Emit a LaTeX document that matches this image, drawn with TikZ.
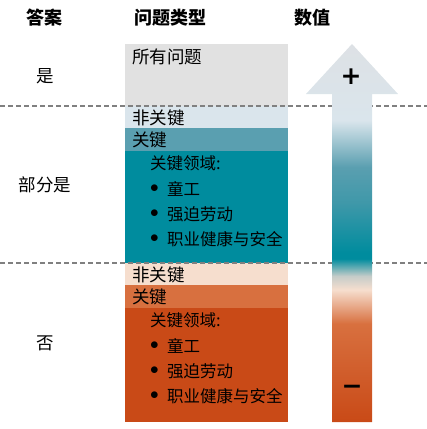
\documentclass[tikz,border=0pt]{standalone}
\usepackage{fontspec}
\setmainfont{Noto Sans CJK SC}
\newfontfamily\symfont{DejaVu Sans}
\definecolor{allgray}{HTML}{E1E1E1}
\definecolor{bluelight}{HTML}{DAE5EC}
\definecolor{bluemid}{HTML}{5A9FB0}
\definecolor{tealdeep}{HTML}{008C9E}
\definecolor{peach}{HTML}{F6DECE}
\definecolor{orangemid}{HTML}{D8703F}
\definecolor{orangedeep}{HTML}{C94A17}
\definecolor{dashgray}{HTML}{808080}
\definecolor{arrowtop}{HTML}{DDE1E5}
\definecolor{arrowmix}{HTML}{C5CCC9}
\definecolor{tealmid}{HTML}{3F98A9}
\pgfdeclareverticalshading{valshade}{100bp}{color(0bp)=(orangedeep); color(25bp)=(orangedeep);
 color(38bp)=(orangemid); color(42.5bp)=(peach); color(44.3bp)=(arrowmix);
 color(46.6bp)=(tealdeep); color(47.4bp)=(tealdeep); color(54bp)=(tealmid);
 color(58.7bp)=(bluemid); color(64.9bp)=(bluelight); color(75bp)=(arrowtop); color(100bp)=(arrowtop)}
\begin{document}
\begin{tikzpicture}[x=1pt,y=-1pt,
 lbl/.style={inner sep=0pt,anchor=west,font=\fontsize{17.5}{19}\selectfont},
 item/.style={inner sep=0pt,anchor=west,font=\fontsize{16.5}{18}\selectfont},
 head/.style={inner sep=0pt,font=\fontsize{18}{20}\selectfont\bfseries},
 ans/.style={inner sep=0pt,font=\fontsize{17.5}{19}\selectfont}]
 \useasboundingbox (0,0) rectangle (427,429);
 \def\xl{125}\def\xr{288}
 % Cột "Loại câu hỏi"
 \fill[allgray] (\xl,44) rectangle (\xr,106);
 \fill[bluelight] (\xl,106) rectangle (\xr,128);
 \fill[bluemid] (\xl,128) rectangle (\xr,151);
 \fill[tealdeep] (\xl,151) rectangle (\xr,263);
 \fill[peach] (\xl,263) rectangle (\xr,285);
 \fill[orangemid] (\xl,285) rectangle (\xr,308);
 \fill[orangedeep] (\xl,308) rectangle (\xr,422);
 \foreach \y in {106,263}\draw[dashgray,line width=1.5pt,dash pattern=on 5pt off 3pt] (0,\y)--(427,\y);
 % Mũi tên giá trị
 \shade[shading=valshade] (332,422)--(332,94)--(306,94)--(352,44)--(398,94)--(372,94)--(372,422)--cycle;
 \node[font=\symfont\bfseries\fontsize{25}{25}\selectfont,inner sep=0pt] (plus) at (351,77) {+};
 \node[font=\symfont\bfseries\fontsize{25}{25}\selectfont,inner sep=0pt] (minus) at (352,390) {−};
 % Tiêu đề
 \node[head] (hans) at (45,18) {答案};
 \node[head] (htype) at (170,18) {问题类型};
 \node[head] (hval) at (312,18) {数值};
 \node[ans] (yes) at (45,76) {是};
 \node[ans] (part) at (45,185) {部分是};
 \node[ans] (no) at (45,343) {否};
 \node[lbl] (all) at (132,57) {所有问题};
 \foreach \o/\n in {0/a,157/b}{
  \node[lbl] (nc\n) at (132,118+\o) {非关键};
  \node[lbl] (cr\n) at (132,140+\o) {关键};
  \node[item] (area\n) at (150,163+\o) {关键领域:};
  \foreach \d/\t [count=\i] in {0/童工,25/强迫劳动,50/职业健康与安全}{
   \node[item] (dot\n\i) at (150,189+\o+\d) {$\bullet$};
   \node[item] (it\n\i) at (167,189+\o+\d) {\t};}
 }
\end{tikzpicture}
\end{document}
